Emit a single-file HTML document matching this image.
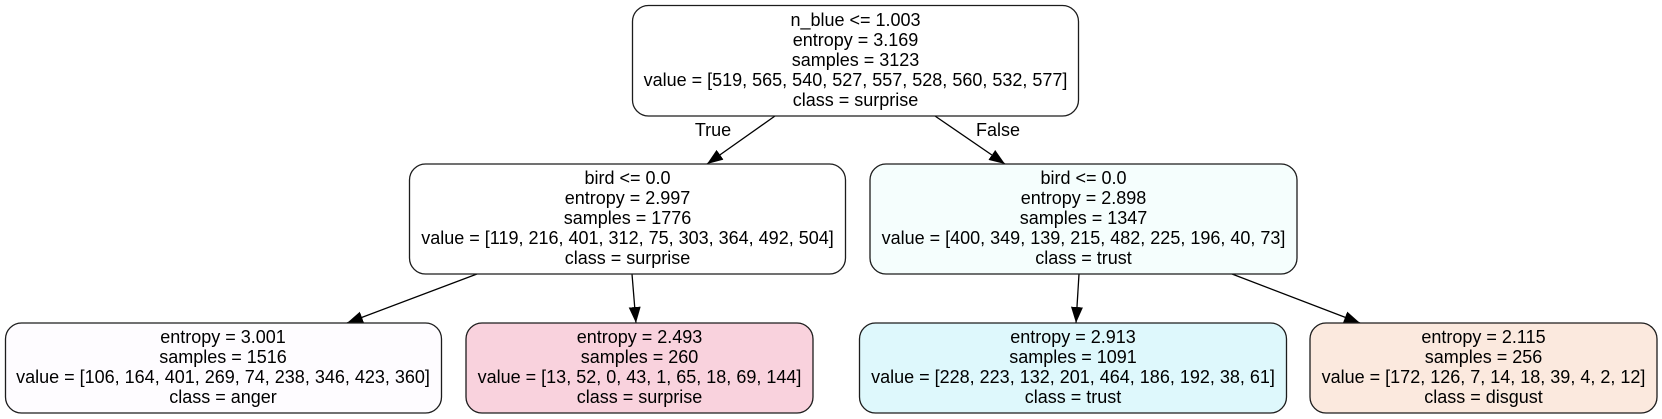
<!DOCTYPE html>
<html>
<head>
<meta charset="utf-8">
<title>Decision tree</title>
<style>
html,body{margin:0;padding:0;background:#fff;width:1662px;height:419px;overflow:hidden}
svg{display:block}
text{font-family:"Liberation Sans",Arial,sans-serif;font-size:18px;fill:#000;text-anchor:middle}
.b{stroke:#1c1c1c;stroke-width:1.3}
.e{stroke:#000;stroke-width:1.3;fill:none}
</style>
</head>
<body>
<svg xmlns="http://www.w3.org/2000/svg" width="1662" height="419" viewBox="0 0 1662 419">
<defs>
<marker id="ah" markerUnits="userSpaceOnUse" markerWidth="17" markerHeight="13" refX="16" refY="6" orient="auto">
<path d="M0,0L16,6L0,12z" fill="#000"/>
</marker>
</defs>
<line class="e" x1="775" y1="116" x2="707" y2="164" marker-end="url(#ah)"/>
<line class="e" x1="935" y1="116" x2="1005" y2="164" marker-end="url(#ah)"/>
<line class="e" x1="477" y1="274" x2="347" y2="323" marker-end="url(#ah)"/>
<line class="e" x1="632" y1="274" x2="636" y2="323" marker-end="url(#ah)"/>
<line class="e" x1="1079" y1="274" x2="1076" y2="323" marker-end="url(#ah)"/>
<line class="e" x1="1232" y1="274" x2="1360" y2="323" marker-end="url(#ah)"/>
<text x="713" y="136">True</text>
<text x="998" y="136">False</text>

<g>
<rect class="b" x="632.5" y="5.5" width="446" height="110.5" rx="16" fill="#ffffff"/>
<text x="855.5" y="26">n_blue &lt;= 1.003</text>
<text x="855.5" y="46">entropy = 3.169</text>
<text x="855.5" y="66">samples = 3123</text>
<text x="855.5" y="86">value = [519, 565, 540, 527, 557, 528, 560, 532, 577]</text>
<text x="855.5" y="106">class = surprise</text>
</g>
<g>
<rect class="b" x="409.5" y="164" width="436" height="110" rx="16" fill="#ffffff"/>
<text x="627.5" y="184">bird &lt;= 0.0</text>
<text x="627.5" y="204">entropy = 2.997</text>
<text x="627.5" y="224">samples = 1776</text>
<text x="627.5" y="244">value = [119, 216, 401, 312, 75, 303, 364, 492, 504]</text>
<text x="627.5" y="264">class = surprise</text>
</g>
<g>
<rect class="b" x="870" y="164" width="427" height="110" rx="16" fill="#f5fefd"/>
<text x="1083.5" y="184">bird &lt;= 0.0</text>
<text x="1083.5" y="204">entropy = 2.898</text>
<text x="1083.5" y="224">samples = 1347</text>
<text x="1083.5" y="244">value = [400, 349, 139, 215, 482, 225, 196, 40, 73]</text>
<text x="1083.5" y="264">class = trust</text>
</g>
<g>
<rect class="b" x="5.5" y="323" width="436" height="90" rx="16" fill="#fefcff"/>
<text x="223" y="343">entropy = 3.001</text>
<text x="223" y="363">samples = 1516</text>
<text x="223" y="383">value = [106, 164, 401, 269, 74, 238, 346, 423, 360]</text>
<text x="223" y="403">class = anger</text>
</g>
<g>
<rect class="b" x="466" y="323" width="347" height="90" rx="16" fill="#f9d2dd"/>
<text x="639.5" y="343">entropy = 2.493</text>
<text x="639.5" y="363">samples = 260</text>
<text x="639.5" y="383">value = [13, 52, 0, 43, 1, 65, 18, 69, 144]</text>
<text x="639.5" y="403">class = surprise</text>
</g>
<g>
<rect class="b" x="859.5" y="323" width="427" height="90" rx="16" fill="#def8fc"/>
<text x="1073" y="343">entropy = 2.913</text>
<text x="1073" y="363">samples = 1091</text>
<text x="1073" y="383">value = [228, 223, 132, 201, 464, 186, 192, 38, 61]</text>
<text x="1073" y="403">class = trust</text>
</g>
<g>
<rect class="b" x="1310" y="323" width="347" height="90" rx="16" fill="#fbe9de"/>
<text x="1483.5" y="343">entropy = 2.115</text>
<text x="1483.5" y="363">samples = 256</text>
<text x="1483.5" y="383">value = [172, 126, 7, 14, 18, 39, 4, 2, 12]</text>
<text x="1483.5" y="403">class = disgust</text>
</g>
</svg>
</body>
</html>
